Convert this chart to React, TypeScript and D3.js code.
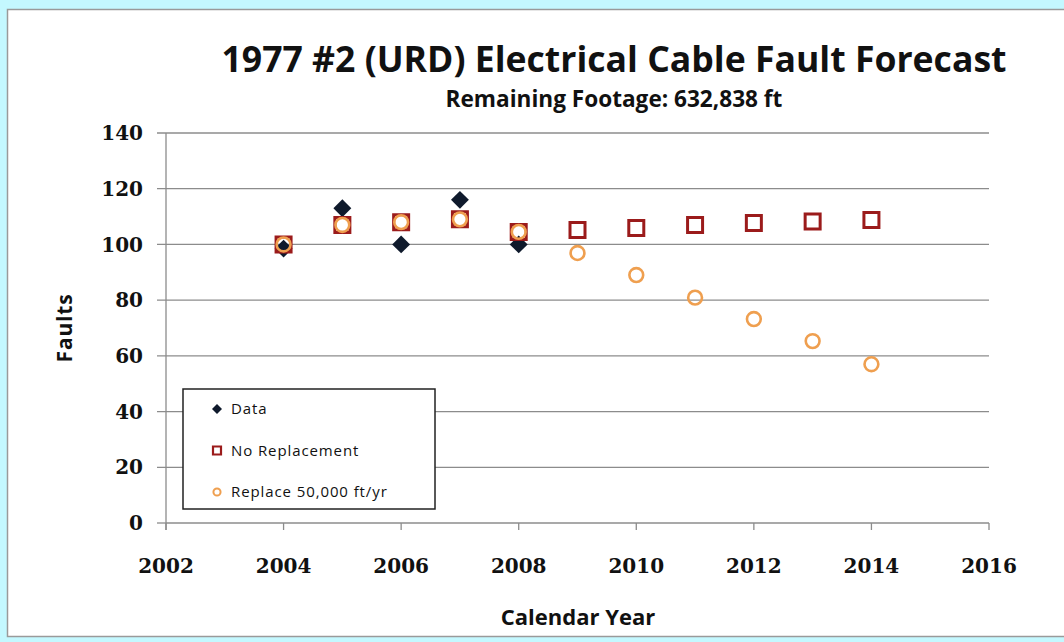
import * as d3 from "d3";

const years = [2004, 2005, 2006, 2007, 2008, 2009, 2010, 2011, 2012, 2013, 2014];
const dataYears = [2004, 2005, 2006, 2007, 2008];
const dataFaults = [98.5, 113, 100, 116, 100];
const noReplacement = [100, 107, 108, 109, 104.5, 105.2, 105.9, 107, 107.7, 108.2, 108.8];
const replace50k = [100, 107, 108, 109, 104.5, 96.9, 89, 80.9, 73.2, 65.3, 57];
const xTicks = [2002, 2004, 2006, 2008, 2010, 2012, 2014, 2016];
const yTicks = [0, 20, 40, 60, 80, 100, 120, 140];
const legendItems = ["Data", "No Replacement", "Replace 50,000 ft/yr"];

export default function App() {
  const width = 1064;
  const height = 642;
  const marginLeft = 166;
  const marginRight = 75;
  const marginTop = 133;
  const marginBottom = 119;

  const sans = "'Open Sans', Lato, sans-serif";
  const serif = "'DejaVu Serif', 'Liberation Serif', serif";

  const x = d3
    .scaleLinear()
    .domain([2002, 2016])
    .range([marginLeft, width - marginRight]);
  const y = d3
    .scaleLinear()
    .domain([0, 140])
    .range([height - marginBottom, marginTop]);

  const diamond = d3.symbol().type(d3.symbolSquare).size(160)();
  const square = d3.symbol().type(d3.symbolSquare).size(225)();
  const circle = d3.symbol().type(d3.symbolCircle).size(150)();

  const gridColor = "#8c8c8c";
  const diamondColor = "#0f1a2c";
  const squareColor = "#9b1b1b";
  const circleColor = "#ef9f4f";

  // legend box
  const lgX = 183;
  const lgY = 389;
  const lgW = 252;
  const lgH = 120;

  return (
    <svg
      width={width}
      height={height}
      style={{ position: "absolute", left: 0, top: 0, background: "#c4f8ff" }}
    >
      <rect x={7.5} y={9.5} width={width} height={627} fill="#ffffff" stroke="#9a9a9a" strokeWidth={1.5} />

      {/* Titles */}
      <text x={614} y={72} textAnchor="middle" fontFamily={sans} fontWeight="bold" fontSize={35.6} fill="#111">
        1977 #2 (URD) Electrical Cable Fault Forecast
      </text>
      <text x={614} y={107} textAnchor="middle" fontFamily={sans} fontWeight="bold" fontSize={22.6} fill="#111">
        Remaining Footage: 632,838 ft
      </text>

      {/* Y grid + labels */}
      {yTicks.map((t) => (
        <g key={t}>
          <line x1={marginLeft - 9} x2={t === 0 ? marginLeft : width - marginRight} y1={y(t)} y2={y(t)} stroke={gridColor} strokeWidth={1.3} />
          <text x={143} y={y(t)} dy="0.36em" textAnchor="end" fontFamily={serif} fontWeight="bold" fontSize={20} fill="#111">
            {t}
          </text>
        </g>
      ))}
      <line x1={marginLeft} x2={width - marginRight} y1={y(0)} y2={y(0)} stroke={gridColor} strokeWidth={1.3} />
      <line x1={marginLeft} x2={marginLeft} y1={y(140)} y2={y(0) + 7} stroke={gridColor} strokeWidth={1.3} />

      {/* X ticks + labels */}
      {xTicks.map((t) => (
        <g key={t}>
          <line x1={x(t)} x2={x(t)} y1={y(0)} y2={y(0) + 7} stroke={gridColor} strokeWidth={1.3} />
          <text x={x(t)} y={573} textAnchor="middle" fontFamily={serif} fontWeight="bold" fontSize={20} fill="#111">
            {t}
          </text>
        </g>
      ))}

      {/* Axis titles */}
      <text
        transform={`translate(72, ${(y(0) + y(140)) / 2}) rotate(-90)`}
        textAnchor="middle"
        fontFamily={sans}
        fontWeight="bold"
        fontSize={21}
        letterSpacing={0.8}
        fill="#111"
      >
        Faults
      </text>
      <text x={578} y={625} textAnchor="middle" fontFamily={sans} fontWeight="bold" fontSize={22} fill="#111">
        Calendar Year
      </text>

      {/* Data */}
      {dataYears.map((yr, i) => (
        <path key={yr} d={diamond} transform={`translate(${x(yr)},${y(dataFaults[i])}) rotate(45)`} fill={diamondColor} />
      ))}
      {years.map((yr, i) => (
        <path key={yr} d={square} transform={`translate(${x(yr)},${y(noReplacement[i])})`} fill="none" stroke={squareColor} strokeWidth={3} />
      ))}
      {years.map((yr, i) => (
        <path key={yr} d={circle} transform={`translate(${x(yr)},${y(replace50k[i])})`} fill="none" stroke={circleColor} strokeWidth={2.6} />
      ))}

      {/* Legend */}
      <rect x={lgX} y={lgY} width={lgW} height={lgH} fill="#ffffff" stroke="#222" strokeWidth={1.5} />
      {legendItems.map((name, i) => {
        const cy = 409 + i * 41.5;
        const cx = 217;
        return (
          <g key={name}>
            {i === 0 && (
              <path d={d3.symbol().type(d3.symbolSquare).size(50)()} transform={`translate(${cx},${cy}) rotate(45)`} fill={diamondColor} />
            )}
            {i === 1 && (
              <path d={d3.symbol().type(d3.symbolSquare).size(64)()} transform={`translate(${cx},${cy})`} fill="none" stroke={squareColor} strokeWidth={2.2} />
            )}
            {i === 2 && (
              <path d={d3.symbol().type(d3.symbolCircle).size(40)()} transform={`translate(${cx},${cy})`} fill="none" stroke={circleColor} strokeWidth={2} />
            )}
            <text x={231} y={cy} dy="0.36em" fontFamily={sans} fontSize={15} letterSpacing={0.9} fill="#111">
              {name}
            </text>
          </g>
        );
      })}
    </svg>
  );
}
